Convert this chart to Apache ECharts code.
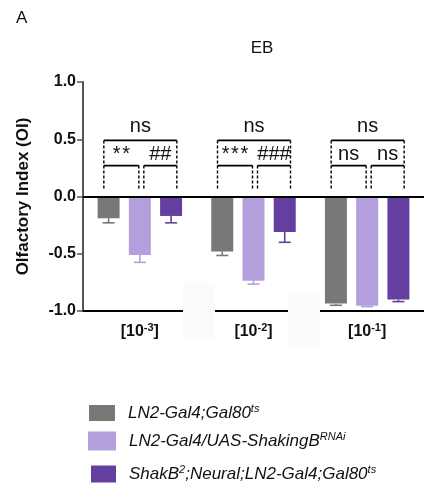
<!DOCTYPE html>
<html>
<head>
<meta charset="utf-8">
<script src="https://cdn.jsdelivr.net/npm/echarts@6/dist/echarts.min.js"></script>
<style>
  html, body { margin: 0; padding: 0; background: #ffffff; }
  #chart { width: 424px; height: 486px; }
</style>
</head>
<body>
<div id="chart"></div>
<script>
// Odour concentrations on the x axis (shown as [10^n])
const concentrations = ['-3', '-2', '-1'];

// Genotypes
const genotypes = [
  'LN2-Gal4;Gal80ts',
  'LN2-Gal4/UAS-ShakingBRNAi',
  'ShakB2;Neural;LN2-Gal4;Gal80ts'
];
const genotypeLabels = [
  'LN2-Gal4;Gal80{sup|ts}',
  'LN2-Gal4/UAS-ShakingB{sup|RNAi}',
  'ShakB{sup|2};Neural;LN2-Gal4;Gal80{sup|ts}'
];

// Mean olfactory index per genotype, one value per concentration
const meanControl = [-0.19, -0.48, -0.935];
const meanRNAi    = [-0.51, -0.735, -0.955];
const meanMutant  = [-0.17, -0.31, -0.90];

// Lower end of the error bar (mean - SEM)
const lowControl = [-0.23, -0.515, -0.95];
const lowRNAi    = [-0.575, -0.765, -0.962];
const lowMutant  = [-0.23, -0.40, -0.918];

// Significance labels per concentration
const sigOverall = ['ns', 'ns', 'ns'];
const sigVsRNAi  = ['**', '***', 'ns'];
const sigVsMut   = ['##', '###', 'ns'];

// Y axis ticks
const yTicks = [-1.0, -0.5, 0.0, 0.5, 1.0];

const colors = ['#787878', '#b39fdc', '#653f9f'];
const FONT = 'Liberation Sans, Arial, Helvetica, sans-serif';
const BAR_W = 22;
const BAR_GAP = 0.42;
const BAR_STEP = BAR_W * (1 + BAR_GAP);

const means = [meanControl, meanRNAi, meanMutant];
const lows = [lowControl, lowRNAi, lowMutant];

const chart = echarts.init(document.getElementById('chart'), null, { renderer: 'canvas' });

function spaced(s) {
  return /^\*+$/.test(s) ? s.split('').join('\u200A') : s;
}

// Error bars (downward only), offset to sit on each bar of the group
function errorSeries(k) {
  return {
    type: 'custom',
    name: genotypes[k] + ' SEM',
    z: 3,
    silent: true,
    data: concentrations.map((c, i) => [i, means[k][i], lows[k][i]]),
    renderItem: function (params, api) {
      const p0 = api.coord([api.value(0), api.value(1)]);
      const p1 = api.coord([api.value(0), api.value(2)]);
      const x = p0[0] + (k - 1) * BAR_STEP;
      const style = { stroke: colors[k], lineWidth: 1.6 };
      return {
        type: 'group',
        children: [
          { type: 'line', shape: { x1: x, y1: p0[1], x2: x, y2: p1[1] }, style: style },
          { type: 'line', shape: { x1: x - 6, y1: p1[1], x2: x + 6, y2: p1[1] }, style: style }
        ]
      };
    }
  };
}

// Comparison brackets drawn above each concentration group
const bracketSeries = {
  type: 'custom',
  name: 'brackets',
  z: 4,
  silent: true,
  data: concentrations.map((c, i) => [i]),
  renderItem: function (params, api) {
    const i = api.value(0);
    const top = api.coord([i, 0.49]);
    const inner = api.coord([i, 0.27]);
    const foot = api.coord([i, 0.07]);
    const cx = top[0];
    const xl = cx - 36, xr = cx + 37, ml = cx - 1, mr = cx + 4;
    const solid = { stroke: '#000', lineWidth: 1.8 };
    const dash = { stroke: '#000', lineWidth: 1.4, lineDash: [3, 2] };
    const seg = (x1, y1, x2, y2, st) => ({ type: 'line', shape: { x1, y1, x2, y2 }, style: st });
    const txt = (t, x, y) => ({
      type: 'text',
      style: { text: t, x: x, y: y, fill: '#111', font: '20px ' + FONT, align: 'center', verticalAlign: 'middle' }
    });
    return {
      type: 'group',
      children: [
        seg(xl, top[1], xr, top[1], solid),
        seg(xl, inner[1], ml, inner[1], solid),
        seg(mr, inner[1], xr, inner[1], solid),
        seg(xl, top[1], xl, foot[1], dash),
        seg(xr, top[1], xr, foot[1], dash),
        seg(ml, inner[1], ml, foot[1], dash),
        seg(mr, inner[1], mr, foot[1], dash),
        txt(sigOverall[i], (xl + xr) / 2, top[1] - 14),
        txt(spaced(sigVsRNAi[i]), (xl + ml) / 2, inner[1] - 11),
        txt(spaced(sigVsMut[i]), (mr + xr) / 2, inner[1] - 11)
      ]
    };
  }
};

const barSeries = genotypes.map((g, k) => {
  const s = {
    type: 'bar',
    name: g,
    data: means[k],
    barWidth: BAR_W,
    barGap: (BAR_GAP * 100) + '%',
    itemStyle: { color: colors[k] },
    z: 2
  };
  if (k === 0) {
    s.markLine = {
      silent: true,
      symbol: 'none',
      label: { show: false },
      lineStyle: { color: '#000', width: 2, type: 'solid' },
      data: [{ yAxis: 0 }],
      z: 5
    };
  }
  return s;
});

const legendRich = {
  sup: { fontSize: 11, fontStyle: 'italic', fontFamily: FONT, color: '#111', verticalAlign: 'top', lineHeight: 12, padding: [0, 0, 8, 0] }
};

function legendFor(k, left, top, w, h) {
  return {
    data: [genotypes[k]],
    left: left,
    top: top,
    padding: 0,
    itemWidth: w,
    itemHeight: h,
    icon: 'rect',
    selectedMode: false,
    formatter: function (name) { return genotypeLabels[genotypes.indexOf(name)]; },
    textStyle: {
      fontFamily: FONT, fontSize: 17, fontStyle: 'italic', color: '#111',
      lineHeight: 20, padding: [0, 0, 0, 8], rich: legendRich
    }
  };
}

const option = {
  animation: false,
  backgroundColor: '#ffffff',
  color: colors,
  title: [
    { text: 'A', left: 16, top: 8, padding: 0,
      textStyle: { fontFamily: FONT, fontSize: 17, fontWeight: 'normal', color: '#111', lineHeight: 20 } },
    { text: 'EB', left: 262, top: 38, textAlign: 'center', padding: 0,
      textStyle: { fontFamily: FONT, fontSize: 17, fontWeight: 'normal', color: '#111', lineHeight: 20 } }
  ],
  legend: [
    legendFor(0, 89, 403, 26, 16),
    legendFor(1, 88, 431, 28, 19),
    legendFor(2, 91, 464, 25, 17)
  ],
  grid: { left: 83, top: 82, width: 343.5, height: 229, containLabel: false },
  xAxis: {
    type: 'category',
    data: concentrations,
    axisLine: { onZero: false, lineStyle: { color: '#000', width: 2 } },
    axisTick: { alignWithLabel: true, length: 5, lineStyle: { color: '#000', width: 1.5 } },
    axisLabel: {
      margin: 11,
      formatter: function (v) { return '{b|[10}{s|' + v + '}{b|]}'; },
      rich: {
        b: { fontFamily: FONT, fontSize: 16, fontWeight: 'bold', color: '#111', lineHeight: 20 },
        s: { fontFamily: FONT, fontSize: 11, fontWeight: 'bold', color: '#111', verticalAlign: 'top', lineHeight: 11, padding: [0, 0, 9, 0] }
      }
    },
    splitLine: { show: false }
  },
  yAxis: {
    type: 'value',
    min: yTicks[0],
    max: yTicks[yTicks.length - 1],
    interval: 0.5,
    name: 'Olfactory Index (OI)',
    nameLocation: 'middle',
    nameRotate: 90,
    nameGap: 51,
    nameTextStyle: { fontFamily: FONT, fontSize: 17, fontWeight: 'bold', color: '#111' },
    axisLine: { show: true, lineStyle: { color: '#555', width: 2 } },
    axisTick: { show: true, length: 6, lineStyle: { color: '#555', width: 1.5 } },
    axisLabel: {
      margin: 7,
      fontFamily: FONT, fontSize: 16, fontWeight: 'bold', color: '#111',
      formatter: function (v) { return v.toFixed(1); }
    },
    splitLine: { show: false }
  },
  series: barSeries.concat([errorSeries(0), errorSeries(1), errorSeries(2), bracketSeries]),
  graphic: [
    // faint patches over the x axis between groups
    { type: 'rect', shape: { x: 183, y: 282, width: 32, height: 58 }, style: { fill: '#fbfbfb' }, z: 100, silent: true },
    { type: 'rect', shape: { x: 288, y: 291, width: 32, height: 58 }, style: { fill: '#fbfbfb' }, z: 100, silent: true }
  ]
};

chart.setOption(option);
</script>
</body>
</html>
